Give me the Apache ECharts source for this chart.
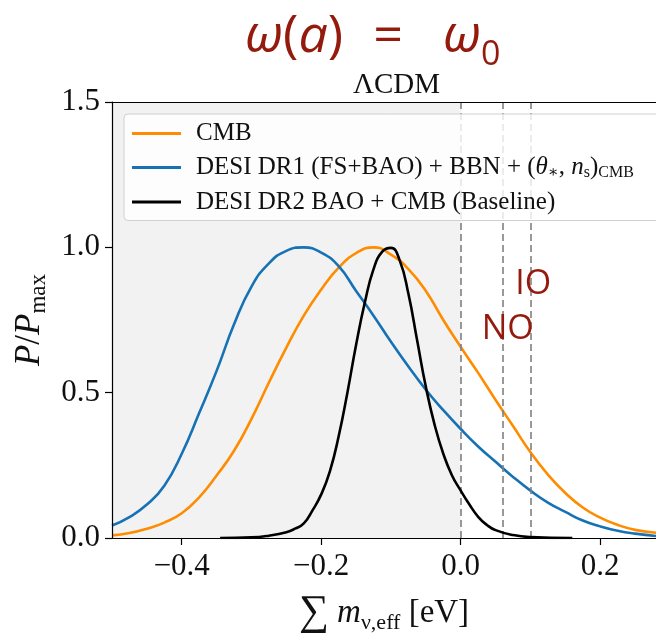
<!DOCTYPE html>
<html>
<head>
<meta charset="utf-8">
<script src="https://cdn.jsdelivr.net/npm/echarts@6/dist/echarts.min.js"></script>
<style>
html,body{margin:0;padding:0;background:#fff;}
#chart{width:656px;height:639px;}
</style>
</head>
<body>
<div id="chart"></div>
<script>
// ---- data ----
var seriesNames = ['CMB', 'DESI DR1 (FS+BAO) + BBN + (θ*, ns)CMB', 'DESI DR2 BAO + CMB (Baseline)'];
var cmbX = [-0.5,-0.475,-0.45,-0.425,-0.4,-0.375,-0.35,-0.325,-0.3,-0.275,-0.25,-0.225,-0.2,-0.175,-0.15,-0.125,-0.1,-0.075,-0.05,-0.025,0,0.025,0.05,0.075,0.1,0.125,0.15,0.175,0.2,0.225,0.25,0.28];
var cmbY = [0.009,0.017,0.032,0.053,0.085,0.14,0.215,0.30,0.41,0.535,0.655,0.765,0.855,0.93,0.98,1.0,0.975,0.925,0.85,0.75,0.657,0.568,0.475,0.385,0.295,0.218,0.155,0.105,0.07,0.045,0.028,0.018];
var dr1X = [-0.5,-0.475,-0.45,-0.425,-0.4,-0.375,-0.35,-0.325,-0.3,-0.275,-0.25,-0.225,-0.2,-0.175,-0.15,-0.125,-0.1,-0.075,-0.05,-0.025,0,0.025,0.05,0.075,0.1,0.125,0.15,0.175,0.2,0.225,0.25,0.28];
var dr1Y = [0.043,0.072,0.115,0.18,0.29,0.43,0.575,0.735,0.865,0.945,0.988,1.0,0.982,0.935,0.85,0.765,0.675,0.59,0.51,0.44,0.375,0.315,0.262,0.21,0.163,0.122,0.09,0.06,0.04,0.025,0.015,0.007];
var dr2X = [-0.345,-0.3,-0.275,-0.25,-0.2375,-0.225,-0.2125,-0.2,-0.1875,-0.175,-0.1625,-0.15,-0.1375,-0.125,-0.1125,-0.1,-0.0875,-0.075,-0.0625,-0.05,-0.0375,-0.025,-0.0125,0,0.0125,0.025,0.0375,0.05,0.075,0.1,0.16];
var dr2Y = [0,0.002,0.008,0.02,0.032,0.05,0.095,0.15,0.23,0.35,0.5,0.665,0.81,0.925,0.985,0.998,0.955,0.84,0.68,0.52,0.39,0.29,0.215,0.163,0.115,0.073,0.045,0.027,0.01,0.003,0];
var hierarchyLines = [0, 0.059, 0.1];          // dashed vertical lines
var shadedRange = [-0.5, 0];                   // grey region
var hierarchyLabels = ['NO', 'IO'];
var hierarchyLabelPos = [[0.0674, 0.718], [0.104, 0.873]];
var xTicks = [-0.4, -0.2, 0, 0.2];
var yTicks = [0, 0.5, 1.0, 1.5];

var colors = ['#ff8c00', '#1672b4', '#000000'];
var red = '#931a0c';
var serif = '"Liberation Serif", "DejaVu Serif", serif';

var chart = echarts.init(document.getElementById('chart'), null, {renderer: 'canvas'});

function fmt(v) { return (v < 0 ? '\u2212' : '') + Math.abs(v).toFixed(1); }
function pairs(xs, ys) { return xs.map(function (x, i) { return [x, ys[i]]; }); }

var legendRich = {
  r: {fontFamily: serif, fontSize: 25, color: '#111', lineHeight: 26, verticalAlign: 'middle'},
  i: {fontFamily: serif, fontSize: 25, fontStyle: 'italic', color: '#111', lineHeight: 26},
  s: {fontFamily: serif, fontSize: 16, color: '#111', lineHeight: 20, verticalAlign: 'bottom'}
};
var legendText = {};
legendText[seriesNames[0]] = '{r|CMB}';
legendText[seriesNames[1]] = '{r|DESI DR1 (FS+BAO) + BBN + (}{i|θ}{s|∗}{r|, }{i|n}{s|s}{r|)}{s|CMB}';
legendText[seriesNames[2]] = '{r|DESI DR2 BAO + CMB (Baseline)}';

var curves = [pairs(cmbX, cmbY), pairs(dr1X, dr1Y), pairs(dr2X, dr2Y)];
var series = curves.map(function (c, k) {
  var s = {
    name: seriesNames[k], type: 'line', data: c, smooth: 0.5,
    showSymbol: false, symbol: 'none',
    lineStyle: {color: colors[k], width: 2.6}, itemStyle: {color: colors[k]}, z: 3 + k, silent: true
  };
  if (k === 0) {
    s.markArea = {silent: true, itemStyle: {color: '#f2f2f2'},
      data: [[{xAxis: shadedRange[0]}, {xAxis: shadedRange[1]}]]};
    s.markLine = {silent: true, symbol: 'none', label: {show: false},
      lineStyle: {color: '#808080', type: [7, 4], width: 1.6},
      data: hierarchyLines.map(function (v) { return {xAxis: v}; })};
  }
  return s;
});
series.push({
  type: 'scatter', silent: true, symbolSize: 0, itemStyle: {color: red}, z: 10,
  data: hierarchyLabelPos.map(function (p, k) { return {value: p, name: hierarchyLabels[k]}; }),
  label: {show: true, position: 'inside', formatter: '{b}', color: red, opacity: 1,
    fontFamily: '"Open Sans", "Noto Sans", sans-serif', fontSize: 34}
});

var titleFont = '"Open Sans", sans-serif';
var option = {
  animation: false,
  backgroundColor: '#ffffff',
  title: [{
    left: 240, top: -3,
    text: '{w|ω}{p|(}{w|a}{p|)}{g| }{p|=}{g2| }{w|ω}{s|0}',
    textStyle: {fontWeight: 'normal', rich: {
      w: {fontFamily: titleFont, fontStyle: 'italic', fontWeight: 'normal', fontSize: 52, color: red, lineHeight: 70},
      p: {fontFamily: titleFont, fontWeight: 'normal', fontSize: 52, color: red, lineHeight: 70},
      g: {fontSize: 20, width: 30, lineHeight: 70},
      g2: {fontSize: 30, width: 40, lineHeight: 70},
      s: {fontFamily: titleFont, fontWeight: 'normal', fontSize: 34, color: red, lineHeight: 58, verticalAlign: 'bottom'}
    }}
  }, {
    left: 348, top: 66,
    text: 'ΛCDM',
    textStyle: {fontFamily: serif, fontSize: 29, fontWeight: 'normal', color: '#111'}
  }],
  legend: {
    orient: 'vertical', left: 124, top: 114,
    padding: [7, 26, 6, 8], itemGap: 9,
    itemWidth: 49, itemHeight: 3, icon: 'rect',
    backgroundColor: 'rgba(255,255,255,0.8)', borderColor: '#d0d0d0', borderWidth: 1, borderRadius: 4,
    data: seriesNames,
    formatter: function (n) { return legendText[n]; },
    textStyle: {rich: legendRich, padding: [0, 0, 0, 10]},
    selectedMode: false, z: 20
  },
  grid: {left: 112, top: 102, right: 0, bottom: 93, show: false, containLabel: false},
  xAxis: [{
    type: 'value', min: -0.5, max: 0.28, z: 10,
    axisLine: {show: true, onZero: false, lineStyle: {color: '#000', width: 1.2}},
    axisTick: {show: true, inside: false, length: 7, customValues: xTicks, lineStyle: {color: '#000', width: 1.2}},
    axisLabel: {customValues: xTicks, formatter: fmt, margin: 13, fontFamily: serif, fontSize: 31, color: '#111'},
    splitLine: {show: false},
    name: '{sum|∑}{r| }{i|m}{s|ν,eff}{r| [eV]}',
    nameLocation: 'middle', nameGap: 54,
    nameTextStyle: {rich: {
      sum: {fontFamily: serif, fontSize: 42, color: '#111', lineHeight: 42},
      r: {fontFamily: serif, fontSize: 33, color: '#111', lineHeight: 42},
      i: {fontFamily: serif, fontSize: 33, fontStyle: 'italic', color: '#111', lineHeight: 42},
      s: {fontFamily: serif, fontSize: 22, color: '#111', lineHeight: 32, verticalAlign: 'bottom'}
    }}
  }, {
    type: 'value', min: -0.5, max: 0.28, position: 'top', z: 10,
    axisLine: {show: true, onZero: false, lineStyle: {color: '#000', width: 1.2}},
    axisTick: {show: false}, axisLabel: {show: false}, splitLine: {show: false}
  }],
  yAxis: {
    type: 'value', min: 0, max: 1.5, interval: 0.5, z: 10,
    axisLine: {show: true, onZero: false, lineStyle: {color: '#000', width: 1.2}},
    axisTick: {show: true, inside: false, length: 7, lineStyle: {color: '#000', width: 1.2}},
    axisLabel: {formatter: function (v) { return v.toFixed(1); }, margin: 12, fontFamily: serif, fontSize: 31, color: '#111'},
    splitLine: {show: false},
    name: '{i|P}{r|/}{i|P}{s|max}',
    nameLocation: 'middle', nameGap: 60, nameRotate: 90,
    nameTextStyle: {rich: {
      r: {fontFamily: serif, fontSize: 35, color: '#111', lineHeight: 42},
      i: {fontFamily: serif, fontSize: 35, fontStyle: 'italic', color: '#111', lineHeight: 42},
      s: {fontFamily: serif, fontSize: 23, color: '#111', lineHeight: 32, verticalAlign: 'bottom'}
    }}
  },
  series: series
};
chart.setOption(option);
</script>
</body>
</html>
